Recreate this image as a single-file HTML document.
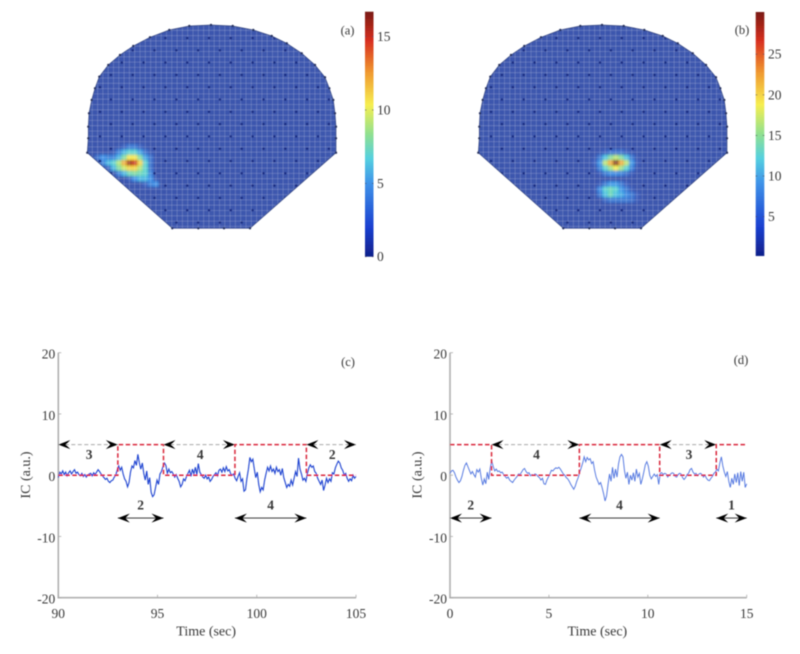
<!DOCTYPE html>
<html lang="en">
<head>
<meta charset="utf-8">
<title>Spatial maps and independent component time courses</title>
<style>
  html, body { margin: 0; padding: 0; background: #fff; }
  svg { display: block; font-family: "Liberation Serif", serif; }
</style>
</head>
<body>
<svg id="figure" xmlns="http://www.w3.org/2000/svg" width="800" height="654" viewBox="0 0 800 654">
  <defs>
    <filter id="soft" x="-5%" y="-5%" width="110%" height="110%"><feGaussianBlur stdDeviation="0.6"/></filter>
    <filter id="heatBlur" x="-5%" y="-5%" width="110%" height="110%"><feGaussianBlur stdDeviation="1.3"/></filter>
  </defs>
  <rect width="800" height="654" fill="#ffffff"/>
  <g id="root" filter="url(#soft)"></g>
</svg>
<script>
// ---------- Data: time-course panels ----------
const icSeriesC = [
-0.4,0.5,0.2,0.7,0.1,0.5,-0.1,0.4,0.7,0.2,0.6,0.9,0.3,0.5,0.1,-0.1,0.3,-0.2,0.1,-0.3,0,0.2,0.3,-0.1,0.4,0.1,0.5,0.9,0.6,0.2,-0.1,-0.4,-0.7,-0.5,-1,-1.2,-0.9,-0.8,-0.3,0,
0.9,1.5,0.8,1.3,0.2,-0.6,-1,-1.9,-1.2,0.5,1.5,1.2,2.4,1.6,3.4,2,1,2,0.3,-0.8,0.7,-1.5,-0.4,-2.8,-3.5,-3.2,-2,-0.8,-1.5,0.2,0.6,1.4,2,1.6,
0.3,1,0.4,0.6,0.2,-0.3,0.1,-0.5,-1,-1.9,-1.5,-0.6,-0.9,-0.2,0.3,0.8,-0.2,1,0.2,1.3,0.1,1.9,0.5,0.1,-0.3,-0.5,0,-0.6,-0.3,-1,-0.7,-0.2,0.1,0.4,-0.1,0.8,1,0.5,1.2,0.6,1.4,0.7,0.9,0.2,0,0.2,-0.5,-0.9,-0.2,0.4,
-1,-0.6,-2.6,-2.4,-0.5,1,2.9,2.2,2.6,1,-0.4,0.5,-1.5,-2.7,-2,-2.4,-0.8,0.3,1.3,0.7,1.5,0.6,1,0.3,1.3,0.6,0.9,0,1.1,-0.4,-1.2,-2,-1.5,-1.8,-0.8,-1.6,-0.5,0.6,-0.2,2.8,1,0.2,-0.8,-0.5,-1,0.3,1.2,
1.7,1.3,1.5,0.6,0.3,-0.5,-1,-1.5,-0.8,-2.5,-1.6,-0.5,-1.2,-0.6,-1,0.4,0.2,1.2,1.8,2.3,2,1.2,0.8,0,0.3,-0.5,-1,-0.6,-0.9,0,-0.5,-0.2];
const icSeriesD = [
0.3,0.7,0.8,0.4,-0.3,-0.8,-1.2,-0.9,-0.2,0.8,1.6,2,1.4,0.8,0.2,0.6,0.1,-0.3,0.9,0.5,1,-0.5,-1.6,-0.6,-1.4,0.5,-0.7,1.2,
2.3,1.4,0.7,1,0.6,0.7,0.4,0.5,0.1,-0.2,-0.5,-0.3,-0.8,-1,-1.2,-0.8,-0.5,-0.2,0.2,0.1,0.5,0.9,1.1,0.6,0.3,0.4,-0.1,0.1,0,0.2,0.1,-0.2,-0.4,-0.8,-0.5,-1.4,-1.5,-0.8,-0.3,0.2,0.8,0.7,1,1.2,1.1,1.3,1,0.6,0.2,0,-0.4,-0.6,-1,-1.5,-1.9,-2.3,-1.8,-1,-0.4,
0.5,1.2,2,3,2.2,2.9,2.5,2.7,1.9,2.2,0.8,-0.3,-0.9,-1.5,-1.2,-2,-3,-4.2,-3.4,-1.5,0.2,-1,1.3,-0.5,1,-0.3,1.8,3,3.4,3,0.8,-0.5,0.5,-1.5,0,-0.8,0.4,-1,1,-0.3,0.3,-1.5,-0.6,0.5,1.7,2.2,1.5,0,-0.6,-0.2,0.2,-0.2,0.1,-1.5,
0.3,0.4,0.1,0.3,0.2,-0.3,0,0.2,0.4,0.3,-0.2,-0.3,0.1,0.3,0.2,-0.4,-0.7,-0.4,0.1,0.3,0.9,1.1,0.5,0.2,0.3,-0.1,0.2,0.3,0.1,-0.3,0,-0.5,-0.8,-0.9,-0.5,-0.2,0.3,0.5,
1,0.7,2,3,1.5,0.5,-0.2,0.6,-1,-2,-0.5,-1.5,0.2,-1.2,0.4,-1.7,0.6,-1,0.5,-2,-1.4];

const stimTimesC = [90, 93, 95.3, 98.9, 102.5, 105];
const stimLevelsC = [0, 5, 0, 5, 0];
const stimTimesD = [0, 2.1, 6.54, 10.6, 13.46, 15];
const stimLevelsD = [5, 0, 5, 0, 5];

const restArrowsC = [[90, 93, "3"], [95.3, 98.9, "4"], [102.5, 105, "2"]];
const taskArrowsC = [[93, 95.3, "2"], [98.9, 102.5, "4"]];
const restArrowsD = [[2.1, 6.54, "4"], [10.6, 13.46, "3"]];
const taskArrowsD = [[0, 2.1, "2"], [6.54, 10.6, "4"], [13.46, 15, "1"]];

const yTicks = [20, 10, 0, -10, -20];
const xTicksC = [90, 95, 100, 105];
const xTicksD = [0, 5, 10, 15];

// ---------- Data: spatial maps (activation, a.u.; everything else is baseline) ----------
const hotCellsA = [
 [0,0,0,0,0.5,2,3.5,3.5,2,0.5,0,0],
 [0,0,0,1,4,6,7,7,5.5,3,1,0],
 [3,5,4,4,6,8,10.5,10.5,8,5.5,3,0],
 [0,4,6,7,9,12,16,15,11,7,3,0],
 [0,0,2,6,8,9.5,11,11,9,7,3,0],
 [0,0,0,0,4,6,7.5,8,7.5,7,4,0],
 [0,0,0,0,0,0,2,5,6,6,5,1],
 [0,0,0,0,0,0,0,0,0,2,4,5]
];
const hotCellsB = [
 [1,2,4,6,6,6,4,2,1,1],
 [2,7,12,15,17,15,12,7,2,1],
 [4,10,17,22,30,22,17,10,3,1],
 [2,8,13,16,19,16,13,8,2,1],
 [1,3,7,9,9,8,6,3,1,1],
 [1,1,1,1,1,1,1,1,1,1],
 [1,3,7,10,10,7,4,1,1,1],
 [2,9,13,14,13,10,7,3,1,1],
 [1,7,12,14,12,11,9,7,4,1],
 [1,1,5,7,7,7,7,6,3,1]
];
const colorTicksA = [0, 5, 10, 15];
const colorTicksB = [5, 10, 15, 20, 25];

// Head outline, in map units
const headOutline = [[87.3,152.7],[88.3,138.3],[88.3,126.7],[89,113.3],[91.7,100],[95,88.3],[99.3,76.7],[108.3,65],[120,55],[133.3,46],[150,37.3],[169.3,30],[189.3,26],[211,25],[232.7,26],[253.3,30],[271.7,36],[286.7,43.3],[301.7,53.3],[315,65],[325,77.3],[329.3,88.3],[333.3,100],[335,113.3],[336,126.7],[336,138.3],[336,152.7],[250,228.3],[224,228.3],[198.3,228.3],[172.3,228.3]];

// ---------- Helpers ----------
const NS = "http://www.w3.org/2000/svg";
const root = document.getElementById("root");
function mk(tag, attrs, parent) {
  const el = document.createElementNS(NS, tag);
  for (const k in attrs) el.setAttribute(k, attrs[k]);
  (parent || root).appendChild(el);
  return el;
}
const TEXT = "#383838";
function label(str, x, y, size, anchor, parent, rot) {
  const attrs = { x: x, y: y, "font-size": size, "text-anchor": anchor, fill: TEXT, "dominant-baseline": "central" };
  if (rot) attrs.transform = "rotate(" + rot + " " + x + " " + y + ")";
  const t = mk("text", attrs, parent);
  t.textContent = str;
  return t;
}
const scaleStops = [
 [0, [16,32,138]], [0.12, [26,63,208]], [0.3, [63,147,232]], [0.4, [85,208,224]], [0.5, [144,224,144]],
 [0.62, [246,238,80]], [0.75, [240,154,48]], [0.88, [216,48,32]], [1, [122,26,18]]
];
const heatStops = [[0, [58,84,173]], [0.1, [60,96,190]]].concat(scaleStops.slice(2));
function heatColor(t) {
  t = Math.max(0, Math.min(1, t));
  for (let i = 1; i < heatStops.length; i++) {
    if (t <= heatStops[i][0]) {
      const a = heatStops[i-1], b = heatStops[i], f = (t - a[0]) / (b[0] - a[0]);
      return "rgb(" + a[1].map((c, j) => Math.round(c + (b[1][j] - c) * f)).join(",") + ")";
    }
  }
  return "rgb(122,26,18)";
}

// ---------- Spatial map ----------
function drawMap(id, dx, hot, startCol, startRow, vMin, vMax) {
  const CELL = 5.3, X0 = 87, Y0 = 25, COLS = 48, ROWS = 39;
  const g = mk("g", { transform: "translate(" + dx + ",0)" });
  
  
  const pts = headOutline.map(p => p.join(",")).join(" ");
  const clip = mk("clipPath", { id: "clip-" + id }, g);
  mk("polygon", { points: pts }, clip);
  const clipped = mk("g", { "clip-path": "url(#clip-" + id + ")" }, g);
  const cells = mk("g", { filter: "url(#heatBlur)" }, clipped);
  
  
  const valueAt = (r, c) => {
    const row = hot[r - startRow];
    return row && row[c - startCol] !== undefined ? row[c - startCol] : vMin;
  };
  for (let r = -1; r <= ROWS; r++) {
    for (let c = -1; c <= COLS; c++) {
      const v = valueAt(r, c);
      const cell = mk("rect", { x: X0 - CELL / 2 + c * CELL, y: Y0 - CELL / 2 + r * CELL, width: CELL + 0.2, height: CELL + 0.2, fill: heatColor((v - vMin) / (vMax - vMin)) }, cells);
      
      
    }
  }
  const grid = mk("g", { stroke: "#ffffff", "stroke-width": 0.8, "stroke-opacity": 0.2 }, clipped);
  
  
  for (let c = 0; c <= COLS; c++) mk("line", { x1: X0 + c * CELL, x2: X0 + c * CELL, y1: 20, y2: 235 }, grid);
  for (let r = 0; r <= ROWS; r++) mk("line", { x1: 85, x2: 340, y1: Y0 + r * CELL, y2: Y0 + r * CELL }, grid);
  const inner = mk("g", { fill: "#1a2f85" }, clipped);
  
  
  for (let r = 0; r < 16; r++) {
    for (let c = 0; c < 12; c++) {
      const sx = 100 + c * 21.8 + (r % 2 ? 10.9 : 0), sy = 38 + r * 12.3;
      // sensors disappear beneath the active region in the source figure
      if (valueAt(Math.round((sy - Y0) / CELL), Math.round((sx - X0) / CELL)) > vMin + 0.5) continue;
      const dot = mk("circle", { cx: sx, cy: sy, r: 1.3 }, inner);
      
      
    }
  }
  const outline = mk("polygon", { points: pts, fill: "none", stroke: "#3a4a80", "stroke-width": 0.7 }, g);
  
  
  headOutline.forEach(p => {
    const dot = mk("circle", { cx: p[0], cy: p[1], r: 1.2, fill: "#2b3560" }, g);
    
    
  });
}

// ---------- Colorbar ----------
function drawColorbar(id, x, w, top, bottom, vMin, vMax, ticks, labelX) {
  const defs = document.querySelector("defs");
  const grad = mk("linearGradient", { id: "grad-" + id, x1: 0, y1: 1, x2: 0, y2: 0 }, defs);
  scaleStops.forEach(s => mk("stop", { offset: s[0], "stop-color": "rgb(" + s[1].join(",") + ")" }, grad));
  const g = mk("g", {});
  
  
  const bar = mk("rect", { x: x, y: top, width: w, height: bottom - top, fill: "url(#grad-" + id + ")" }, g);
  
  
  const sy = v => bottom - (v - vMin) / (vMax - vMin) * (bottom - top);
  ticks.forEach(v => {
    const y = sy(v);
    mk("line", { x1: x, x2: x + 1.5, y1: y, y2: y, stroke: "#445", "stroke-width": 0.7 }, g);
    mk("line", { x1: x + w - 1.5, x2: x + w, y1: y, y2: y, stroke: "#445", "stroke-width": 0.7 }, g);
    const t = label(String(v), labelX, y, 13.5, "start", g);
    
    
  });
}

// ---------- Arrow ----------
function arrowHead(g, tip, y, dir) {
  const L = 12, H = 4.6, N = 7.5;
  const pts = [[tip, y], [tip + dir * L, y - H], [tip + dir * N, y], [tip + dir * L, y + H]];
  const h = mk("polygon", { points: pts.map(p => p.join(",")).join(" "), fill: "#000" }, g);
  
  
}

// ---------- Time-course panel ----------
function drawTimePanel(id, left, right, tMin, tMax, series, stimTimes, stimLevels, restArrows, taskArrows, xTicks) {
  const top = 352.7, bottom = 597.7, yMax = 20, yMin = -20;
  const sx = t => left + (t - tMin) / (tMax - tMin) * (right - left);
  const sy = v => bottom - (v - yMin) / (yMax - yMin) * (bottom - top);
  const g = mk("g", {});
  
  

  const axes = mk("path", { d: "M" + left + " " + top + "V" + bottom + "H" + right, fill: "none", stroke: "#b0b0b0", "stroke-width": 1.6 }, g);
  
  
  yTicks.forEach(v => {
    mk("line", { x1: left, x2: left + 3, y1: sy(v), y2: sy(v), stroke: "#aaa", "stroke-width": 0.8 }, g);
    const t = label(String(v), left - 3, sy(v) + 1.5, 13.5, "end", g);
    
    
  });
  xTicks.forEach(v => {
    mk("line", { x1: sx(v), x2: sx(v), y1: bottom, y2: bottom - 3, stroke: "#aaa", "stroke-width": 0.8 }, g);
    const t = label(String(v), sx(v), 613.5, 13.5, "middle", g);
    
    
  });
  const xt = label("Time (sec)", (left + right) / 2 - 1, 632, 14, "middle", g);
  
  
  const yt = label("IC (a.u.)", left - 32, 475, 14, "middle", g, -90);
  
  

  const n = series.length;
  const d = series.map((v, i) => (i ? "L" : "M") + sx(tMin + i / (n - 1) * (tMax - tMin)).toFixed(2) + " " + sy(v).toFixed(2)).join("");
  const trace = mk("path", { d: d, fill: "none", stroke: id === "c" ? "#1f42d0" : "#5277e0", "stroke-width": id === "c" ? 1.1 : 0.95 }, g);
  
  

  let sd = "";
  stimLevels.forEach((lv, i) => {
    sd += (i ? "L" : "M") + sx(stimTimes[i]) + " " + sy(lv) + "L" + sx(stimTimes[i + 1]) + " " + sy(lv);
  });
  const stim = mk("path", { d: sd, fill: "none", stroke: "#d9263a", "stroke-width": 1.5, "stroke-dasharray": "4.5 2.5" }, g);
  
  

  restArrows.forEach(a => {
    const x1 = sx(a[0]), x2 = sx(a[1]), y = sy(5);
    const ln = mk("line", { x1: x1, x2: x2, y1: y, y2: y, stroke: "#a8a8a8", "stroke-width": 1, "stroke-dasharray": "4 2.5" }, g);
    
    
    arrowHead(g, x1, y, 1);
    arrowHead(g, x2, y, -1);
    const t = label(a[2], (x1 + x2) / 2 + 1, 454.5, 13.5, "middle", g);
    t.setAttribute("font-weight", "bold");
    
    
  });
  taskArrows.forEach(a => {
    const x1 = sx(a[0]), x2 = sx(a[1]), y = sy(-7);
    const ln = mk("line", { x1: x1, x2: x2, y1: y, y2: y, stroke: "#222", "stroke-width": 0.9 }, g);
    
    
    arrowHead(g, x1, y, 1);
    arrowHead(g, x2, y, -1);
    const t = label(a[2], (x1 + x2) / 2, 505, 13.5, "middle", g);
    t.setAttribute("font-weight", "bold");
    
    
  });
}

// ---------- Build ----------
drawMap("a", 0, hotCellsA, 2, 23, 0, 16.7);
drawMap("b", 391, hotCellsB, 22, 24, 1, 30);
drawColorbar("a", 365, 8.5, 11.7, 256.7, 0, 16.7, colorTicksA, 377);
drawColorbar("b", 755.7, 8.6, 12, 256, 0.15, 30.2, colorTicksB, 768);
drawTimePanel("c", 58.3, 356, 90, 105, icSeriesC, stimTimesC, stimLevelsC, restArrowsC, taskArrowsC, xTicksC);
drawTimePanel("d", 450, 746.7, 0, 15, icSeriesD, stimTimesD, stimLevelsD, restArrowsD, taskArrowsD, xTicksD);

const panelA = label("(a)", 347.5, 30.5, 12.5, "middle");


const panelB = label("(b)", 742, 30, 12.5, "middle");


const panelC = label("(c)", 348, 362, 12.5, "middle");


const panelD = label("(d)", 741, 360, 12.5, "middle");


</script>
</body>
</html>
